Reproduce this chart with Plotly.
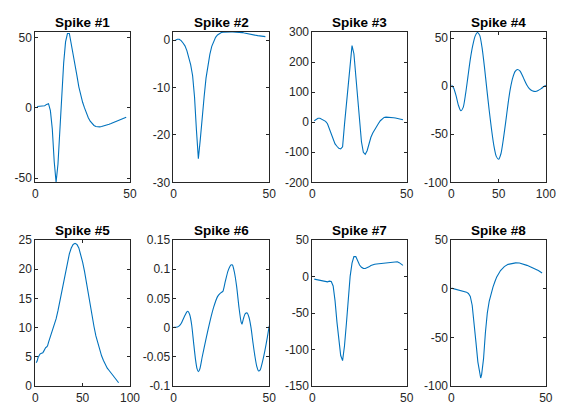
import plotly.graph_objects as go
from plotly.subplots import make_subplots

titles = ["Spike #1", "Spike #2", "Spike #3", "Spike #4",
          "Spike #5", "Spike #6", "Spike #7", "Spike #8"]

# Spike 1
s1_x = list(range(1, 49))
s1_y = [1, 1, 1, 1, 1.5, 2.5, 3, -2, -15, -38, -53, -40, -15, 10, 32, 47, 53, 53, 46, 38,
        30, 23, 15, 9, 4, 0, -4, -7, -9.5, -11.3, -12.5, -13.3, -13.6, -13.5, -13.3, -13,
        -12.6, -12.1, -11.6, -11.1, -10.5, -10, -9.4, -8.8, -8.2, -7.6, -7.1, -6.6]

# Spike 2
s2_x = list(range(1, 49))
s2_y = [0, 0.2, 0.2, -0.1, -0.6, -1.2, -2.2, -3.5, -5.2, -7.5, -12, -19, -25, -21, -16, -12,
        -8, -5.2, -3, -1.3, -0.2, 0.6, 1.1, 1.4, 1.6, 1.7, 1.75, 1.75, 1.75, 1.75, 1.75, 1.75,
        1.7, 1.7, 1.65, 1.6, 1.5, 1.4, 1.3, 1.2, 1.1, 1.05, 1.0, 0.95, 0.9, 0.85, 0.8, 0.75]

# Spike 3
s3_x = list(range(1, 49))
s3_y = [5, 9, 13, 13, 10, 6, 3, -5, -22, -40, -58, -72, -80, -87, -89, -82, -8, 60, 140, 205,
        255, 228, 160, 85, 0, -65, -100, -107, -95, -72, -50, -36, -25, -12, -4, 5, 12, 16,
        17, 17, 16.5, 16, 15, 14, 12.5, 11, 9.5, 8]

# Spike 4
s4_x = [0, 2.5, 5, 7.5, 10, 12.5, 15, 17.5, 20, 22.5, 25, 27.5, 30, 32.5, 35, 37.5, 40, 42.5,
        45, 47.5, 50, 52.5, 55, 57.5, 60, 62.5, 65, 67.5, 70, 72.5, 75, 77.5, 80, 82.5, 85,
        87.5, 90, 92.5, 95, 97.5, 100]
s4_y = [1.5, -2, -10, -20, -25.5, -22, -8, 10, 28, 42, 52, 56, 53, 40, 20, -3, -25, -45, -62,
        -73, -76, -70, -55, -37, -18, -2, 9, 15.5, 17.5, 16, 11.5, 6, 1, -2.5, -4.5, -5.3,
        -5.2, -4, -2.5, -0.5, 1]

# Spike 5
s5_x = [1, 2, 3, 4, 5, 6, 7, 8, 9, 10, 11, 12, 13, 14, 15, 16, 18, 20, 22, 24, 26, 28, 30,
        32, 34, 36, 38, 40, 42, 44, 46, 48, 50, 52, 54, 56, 58, 60, 62, 64, 66, 68, 70, 72,
        74, 76, 78, 80, 82, 84, 86, 87, 88]
s5_y = [4.0, 4.3, 4.9, 5.3, 5.5, 5.6, 5.6, 5.7, 6.0, 6.4, 6.6, 6.7, 6.9, 7.5, 8.0, 8.5, 9.2,
        10.3, 11.5, 12.9, 14.5, 16.1, 17.8, 19.6, 21.2, 22.6, 23.6, 24.2, 24.4, 24.2, 23.6,
        22.5, 21.2, 19.6, 17.6, 15.7, 13.8, 11.9, 10.2, 8.6, 7.3, 6.2, 5.2, 4.4, 3.7, 3.1,
        2.7, 2.3, 1.9, 1.5, 1.2, 0.9, 0.6]

# Spike 6
s6_x = [0, 2, 3, 4, 5, 6, 7, 7.5, 8.5, 9.5, 10.5, 11.5, 12.3, 13, 13.8, 15, 17, 19, 21, 23,
        24.5, 25.8, 27, 28.5, 30, 30.8, 31.8, 33, 34.2, 35.3, 35.8, 36.5, 37.5, 38.5, 39.5,
        40.5, 41.5, 42.5, 43.5, 44.5, 45.3, 46.5, 47.7, 49, 50]
s6_y = [0.0005, 0.001, 0.003, 0.007, 0.014, 0.021, 0.027, 0.028, 0.022, 0.005, -0.025, -0.054,
        -0.07, -0.075, -0.07, -0.05, -0.019, 0.01, 0.035, 0.053, 0.059, 0.062, 0.078, 0.097,
        0.107, 0.107, 0.095, 0.07, 0.035, 0.01, 0.006, 0.015, 0.024, 0.025, 0.017, 0.0,
        -0.025, -0.048, -0.066, -0.074, -0.072, -0.058, -0.04, -0.017, 0.003]

# Spike 7
s7_x = list(range(1, 49))
s7_y = [-3.7, -4.3, -5, -5.7, -6.5, -7.2, -7.6, -7.4, -6.5, -7, -13, -33, -62, -90, -108, -115,
        -95, -65, -30, 0, 18, 27, 27, 21, 15.5, 12.5, 11, 10.8, 11.5, 13, 14.8, 16, 16.6, 17,
        17.3, 17.6, 17.9, 18.2, 18.5, 18.9, 19.3, 19.8, 20.2, 20.5, 20, 18.8, 17, 15]

# Spike 8
s8_x = [0, 2, 4, 6, 8, 9, 10, 11, 12, 13, 14, 15, 15.5, 16, 17, 18, 19, 20, 21, 22, 23, 24,
        26, 28, 30, 32, 34, 36, 38, 40, 42, 44, 46, 48]
s8_y = [0.5, -0.5, -1.3, -2.3, -3.6, -5, -8, -17, -33, -55, -75, -88, -91.5, -88, -72, -45,
        -25, -13, -5, 1.5, 7, 12, 18.5, 22.5, 24.8, 25.8, 26.3, 26.2, 25.3, 23.8, 22.2,
        20.5, 18.5, 16]

xs = [s1_x, s2_x, s3_x, s4_x, s5_x, s6_x, s7_x, s8_x]
ys = [s1_y, s2_y, s3_y, s4_y, s5_y, s6_y, s7_y, s8_y]

x_ranges = [[0, 50], [0, 50], [0, 50], [0, 100], [0, 100], [0, 50], [0, 50], [0, 50]]
x_ticks = [[0, 50], [0, 50], [0, 50], [0, 50, 100], [0, 50, 100], [0, 50], [0, 50], [0, 50]]
y_ranges = [[-53, 54], [-30, 1.7], [-200, 300], [-100, 56.4], [0, 25], [-0.1, 0.15],
            [-150, 50], [-100, 50]]
y_ticks = [[-50, 0, 50], [-30, -20, -10, 0], [-200, -100, 0, 100, 200, 300],
           [-100, -50, 0, 50], [0, 5, 10, 15, 20, 25], [-0.1, -0.05, 0, 0.05, 0.1, 0.15],
           [-150, -100, -50, 0, 50], [-100, -50, 0, 50]]
y_ticktext = [["-50", "0", "50"], ["-30", "-20", "-10", "0"],
              ["-200", "-100", "0", "100", "200", "300"], ["-100", "-50", "0", "50"],
              ["0", "5", "10", "15", "20", "25"], ["-0.1", "-0.05", "0", "0.05", "0.1", "0.15"],
              ["-150", "-100", "-50", "0", "50"], ["-100", "-50", "0", "50"]]
smooth = [False, False, False, True, False, True, False, False]

W, H = 563, 410
col_px = [(33, 130), (174.5, 272.5), (316.7, 413.3), (459, 555.7)]
row_px = [(26, 181.5), (241, 392.7)]
title_py = [16.5, 231]

fig = make_subplots(rows=2, cols=4)
AX = "#262626"
for i in range(8):
    r, c = divmod(i, 4)
    fig.add_trace(go.Scatter(x=xs[i], y=ys[i], mode="lines",
                             line=dict(color="#0072BD", width=1.1,
                                       shape="spline" if smooth[i] else "linear",
                                       smoothing=0.6 if smooth[i] else None),
                             showlegend=False, hoverinfo="skip"),
                  row=r + 1, col=c + 1)
    xd = [col_px[c][0] / W, col_px[c][1] / W]
    yd = [1 - row_px[r][1] / H, 1 - row_px[r][0] / H]
    xt = [str(v) for v in x_ticks[i]]
    fig.update_xaxes(domain=xd, range=x_ranges[i], tickvals=x_ticks[i], ticktext=xt,
                     ticks="inside", ticklen=3, tickcolor=AX, showline=True, linecolor=AX,
                     linewidth=1, mirror="ticks", showgrid=False, zeroline=False,
                     tickfont=dict(family="Liberation Sans, Arial", size=12, color=AX),
                     row=r + 1, col=c + 1)
    fig.update_yaxes(domain=yd, range=y_ranges[i], tickvals=y_ticks[i], ticktext=y_ticktext[i],
                     ticks="inside", ticklen=3, tickcolor=AX, showline=True, linecolor=AX,
                     linewidth=1, mirror="ticks", showgrid=False, zeroline=False,
                     tickfont=dict(family="Liberation Sans, Arial", size=12, color=AX),
                     row=r + 1, col=c + 1)
    fig.add_annotation(text="<b>" + titles[i] + "</b>", xref="paper", yref="paper",
                       x=(xd[0] + xd[1]) / 2, y=1 - title_py[r] / H, xanchor="center",
                       yanchor="middle", showarrow=False,
                       font=dict(family="Liberation Sans, Arial", size=13.5, color="black"))

fig.update_layout(width=W, height=H, margin=dict(l=0, r=0, t=0, b=0),
                  paper_bgcolor="white", plot_bgcolor="white")
fig.write_html("out.html", config={"displayModeBar": False},
               post_script="document.body.style.margin='0';")
